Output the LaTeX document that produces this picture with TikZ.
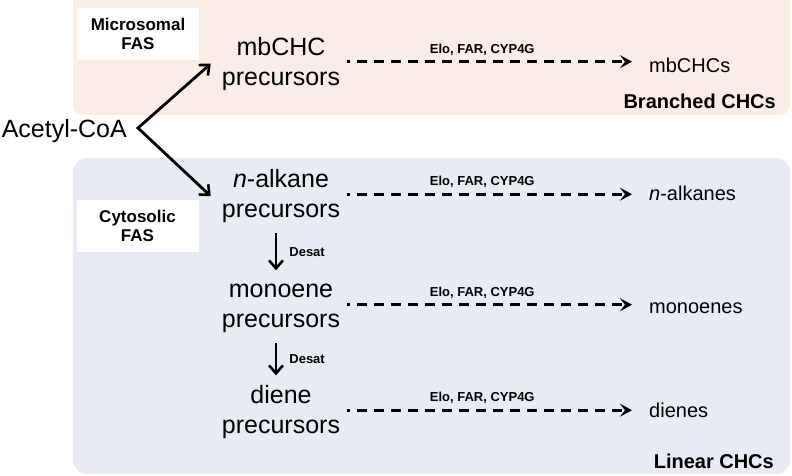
\documentclass[tikz,border=0pt]{standalone}
\usepackage{fontspec}
\setmainfont{Liberation Sans}
\usetikzlibrary{arrows.meta,calc}
\definecolor{peach}{HTML}{F9EDE6}
\definecolor{bluegrey}{HTML}{E8EBF3}
\begin{document}
\begin{tikzpicture}[x=1pt,y=-1pt,
  prec/.style={align=center, font=\fontsize{25}{30}\selectfont, inner xsep=11pt, inner ysep=10pt},
  prod/.style={anchor=base west, font=\fontsize{20}{24}\selectfont, inner xsep=17pt, inner ysep=0pt},
  fas/.style={fill=white, minimum width=122pt, minimum height=52pt, inner sep=0pt, align=center, font=\bfseries\fontsize{17}{19}\selectfont},
  grouplbl/.style={anchor=base east, inner sep=0pt, font=\bfseries\fontsize{20}{24}\selectfont},
  enz/.style={font=\bfseries\fontsize{13}{15}\selectfont, anchor=base, inner sep=0pt, yshift=8.5pt},
  desat/.style={font=\bfseries\fontsize{13}{15}\selectfont, anchor=west, inner sep=0pt, xshift=12pt},
  barb/.tip={Straight Barb[length=8pt,width=14pt,line width=2.6pt]},
  solidarrow/.style={line width=2.8pt, line join=miter},
  dasharrow/.style={line width=2.8pt, dash pattern=on 10pt off 7pt, dash phase=7pt, -{Stealth[length=12pt,width=13pt,inset=5pt]}},
]
\useasboundingbox (0,0) rectangle (792,476);
% background groups
\fill[peach, rounded corners=10pt] (73,-20) rectangle (790,115);
\fill[bluegrey, rounded corners=14pt] (73,158) rectangle (790,474);

% FAS labels
\node[fas] (micro) at (138,34) {Microsomal\\FAS};
\node[fas] (cyto) at (137.5,226) {Cytosolic\\FAS};

% group labels
\node[grouplbl] (br) at (776,108.5) {Branched CHCs};
\node[grouplbl] (lin) at (774,468) {Linear CHCs};

% main nodes
\node[font=\fontsize{25}{30}\selectfont, text height=18pt, text depth=0pt, inner xsep=11pt, inner ysep=0pt, anchor=east] (ac) at (138,128) {Acetyl-CoA};
\node[prec] (mb) at (281,63.7) {\vphantom{H}mbCHC\\precursors};
\node[prec] (nalk) at (281,196.2) {\vphantom{H}\textit{n}-alkane\\precursors};
\node[prec] (mono) at (281,306.7) {\vphantom{H}monoene\\precursors};
\node[prec] (diene) at (281,412.2) {\vphantom{H}diene\\precursors};

% products
\node[prod] (mbend) at (632,73) {mbCHCs};
\node[prod] (nalkend) at (632,200) {\textit{n}-alkanes};
\node[prod] (monoend) at (632,313) {monoenes};
\node[prod] (dieneend) at (632,417) {dienes};

% branching arrows
\draw[solidarrow, barb-barb] (mb.west) -- (ac.east) -- (nalk.west);

% desaturation arrows
\draw[solidarrow, -barb] ([xshift=-5pt]nalk.south) -- ([xshift=-5pt]mono.north) node[desat, midway] {Desat};
\draw[solidarrow, -barb] ([xshift=-5pt]mono.south) -- ([xshift=-5pt]diene.north) node[desat, midway] {Desat};

% dashed conversion arrows
\draw[dasharrow] ($(mb.east)+(-4,-2)$) -- ($(mb.east -| mbend.west)+(0,-2)$) node[enz, pos=0.474] {Elo, FAR, CYP4G};
\draw[dasharrow] ($(nalk.east)+(-4,-2)$) -- ($(nalk.east -| nalkend.west)+(0,-2)$) node[enz, pos=0.474] {Elo, FAR, CYP4G};
\draw[dasharrow] ($(mono.east)+(-4,-2)$) -- ($(mono.east -| monoend.west)+(0,-2)$) node[enz, pos=0.474] {Elo, FAR, CYP4G};
\draw[dasharrow] ($(diene.east)+(-4,-2)$) -- ($(diene.east -| dieneend.west)+(0,-2)$) node[enz, pos=0.474] {Elo, FAR, CYP4G};
\end{tikzpicture}
\end{document}
